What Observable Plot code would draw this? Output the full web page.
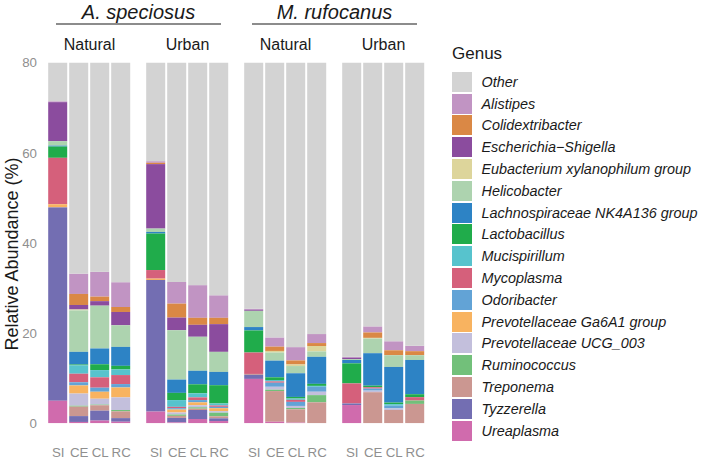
<!DOCTYPE html>
<html>
<head>
<meta charset="utf-8">
<script src="https://cdn.jsdelivr.net/npm/d3@7"></script>
<script src="https://cdn.jsdelivr.net/npm/@observablehq/plot@0.6"></script>
<style>
  html, body { margin: 0; padding: 0; background: #fff; }
  #wrap { position: relative; width: 709px; height: 461px; font-family: "Liberation Sans", Arial, Helvetica, sans-serif; }
  #chart { position: absolute; left: 0; top: 0; }
  #legend { position: absolute; left: 452px; top: 0; }
  .ltitle { position: absolute; left: 0; top: 44px; font-size: 17px; color: #1a1a1a; white-space: nowrap; }
  .lrow { position: absolute; left: 0; height: 20px; display: flex; align-items: center; white-space: nowrap; }
  .lkey { width: 20px; height: 20px; }
  .llab { margin-left: 9.5px; font-size: 14.4px; font-style: italic; color: #1a1a1a; }
</style>
</head>
<body>
<div id="wrap"><div id="chart"></div><div id="legend"></div></div>
<script>
// ---- data ----
const sites = ["SI", "CE", "CL", "RC"];
const species = ["A. speciosus", "M. rufocanus"];
const habitats = ["Natural", "Urban"];
const groups = ["A. speciosus|Natural", "A. speciosus|Urban", "M. rufocanus|Natural", "M. rufocanus|Urban"];
const yTicks = [0, 20, 40, 60, 80];

const genera = ["Other", "Alistipes", "Colidextribacter", "Escherichia\u2212Shigella", "Eubacterium xylanophilum group",
  "Helicobacter", "Lachnospiraceae NK4A136 group", "Lactobacillus", "Mucispirillum", "Mycoplasma", "Odoribacter",
  "Prevotellaceae Ga6A1 group", "Prevotellaceae UCG_003", "Ruminococcus", "Treponema", "Tyzzerella", "Ureaplasma"];
const colors = ["#D3D3D3", "#C194C3", "#DA8845", "#8B4C9E", "#DDD59B", "#ADD3AF", "#2D83C5", "#20AC4B", "#57C3CD",
  "#D5607B", "#62A3D6", "#F8B360", "#C3BFDC", "#72C07A", "#CB9791", "#736EB2", "#D06BAD"];

// values per bar: A.sp Natural SI CE CL RC | A.sp Urban SI CE CL RC | M.ru Natural ... | M.ru Urban ...
const alistipes        = [0.2, 4.5, 5.5, 5.5,   0.35, 4.8, 7.25, 5.0,   0.2, 2.05, 2.95, 2.0,  0.2, 1.35, 2.0, 1.2];
const colidextribacter = [0, 2.45, 1.0, 1.1,    0.3, 3.1, 1.55, 1.4,    0, 0.95, 0.9, 0.65,    0, 1.2, 1.1, 0.9];
const escherichia      = [8.65, 1.0, 1.0, 2.95, 14.3, 2.8, 2.65, 6.15,  0.25, 0, 0, 0,         0.3, 0, 0, 0];
const eubacterium      = [0, 0.2, 0, 0,         0, 0, 0, 0,             0, 0.35, 0.35, 1.2,    0, 0.15, 0, 0];
const helicobacter     = [1.0, 9.2, 9.5, 4.8,   0.75, 10.95, 7.55, 4.45, 3.6, 1.8, 1.6, 1.2,   0.2, 3.25, 2.6, 1.05];
const lachnospiraceae  = [0.2, 2.8, 3.5, 4.2,   0.35, 2.95, 3.0, 2.95,  0.75, 3.7, 5.25, 6.0,  0.75, 7.2, 7.9, 7.6];
const lactobacillus    = [2.5, 0.2, 1.3, 0.8,   8.1, 1.6, 2.0, 4.05,    4.9, 0.6, 0.35, 0.45,  4.45, 0.35, 0.35, 0.65];
const mucispirillum    = [0, 1.85, 1.6, 1.25,   0, 1.5, 0.9, 0.45,      0, 0.3, 0.3, 0.2,      0, 0, 0.35, 0];
const mycoplasma       = [10.3, 1.9, 2.3, 2.0,  1.9, 0.3, 0.6, 0.3,     4.75, 0.3, 0.45, 0,    4.45, 0.3, 0, 0.75];
const odoribacter      = [0, 0.7, 0.9, 0.75,    0, 0.3, 0.5, 0.3,       0, 0.9, 0.9, 1.1,      0, 0.45, 0.6, 0];
const ga6a1            = [0.7, 1.8, 1.55, 2.2,  0.3, 0.65, 0.65, 0.65,  0, 0, 0, 0,            0, 0, 0, 0];
const ucg003           = [0, 2.7, 1.3, 2.8,     0, 0.45, 0.45, 0.35,    0, 0.65, 0.45, 0.75,   0, 0.35, 0.35, 0];
const ruminococcus     = [0, 0.2, 0.15, 0.3,    0, 0.3, 0.3, 0.8,       0, 0.3, 0.3, 1.6,      0, 0, 0, 0.75];
const treponema        = [0, 2.1, 1.2, 1.5,     0, 0.45, 0.3, 0.45,     0.2, 6.8, 2.95, 4.65,  0, 6.9, 2.95, 4.3];
const tyzzerella       = [42.9, 1.3, 2.2, 0.8,  29.2, 1.0, 2.0, 0.6,    0.9, 0, 0, 0,          0.35, 0, 0, 0];
const ureaplasma       = [5.0, 0.3, 0.6, 0.35,  2.6, 0.2, 0.95, 0.5,    9.85, 0.35, 0.15, 0,   4.05, 0, 0, 0];

const series = [null, alistipes, colidextribacter, escherichia, eubacterium, helicobacter, lachnospiraceae,
  lactobacillus, mucispirillum, mycoplasma, odoribacter, ga6a1, ucg003, ruminococcus, treponema, tyzzerella, ureaplasma];

// ---- table ----
const rows = [];
groups.forEach((g, gi) => {
  sites.forEach((s, si) => {
    const i = gi * 4 + si;
    let sum = 0;
    for (let k = 1; k < genera.length; k++) {
      const v = series[k][i];
      sum += v;
      rows.push({group: g, site: s, genus: genera[k], value: v});
    }
    rows.push({group: g, site: s, genus: "Other", value: 100 - sum});
  });
});

const FONT = '"Liberation Sans", Arial, Helvetica, sans-serif';
const chart = Plot.plot({
  width: 709,
  height: 461,
  marginLeft: 42.8,
  marginRight: 279.5,
  marginTop: 62.7,
  marginBottom: 37.7,
  style: {fontFamily: FONT, fontSize: "13.3px", color: "#8f8f8f", background: "white"},
  fx: {domain: groups, paddingInner: 0.069, paddingOuter: 0, axis: null, label: null},
  x: {domain: sites, paddingInner: 0.1, paddingOuter: 0.15, label: null, tickSize: 0, tickPadding: 23.5},
  y: {domain: [0, 80], ticks: yTicks, label: null, tickSize: 0, tickPadding: 7.5},
  color: {domain: genera, range: colors},
  marks: [
    Plot.barY(rows, {fx: "group", x: "site", y: "value", fill: "genus", order: genera.slice().reverse(), clip: true})
  ]
});
document.getElementById("chart").appendChild(chart);

const svgEl = chart.tagName.toLowerCase() === "svg" ? chart : chart.querySelector("svg");
const svg = d3.select(svgEl);
const fx = chart.scale("fx");
const bw = fx.bandwidth;
const pos = g => fx.apply(g);

// species headers with rule
species.forEach((sp, i) => {
  const x0 = pos(groups[2 * i]);
  const x1 = pos(groups[2 * i + 1]) + bw;
  svg.append("text").attr("x", (x0 + x1) / 2).attr("y", 18.5)
    .attr("text-anchor", "middle").attr("font-family", FONT).attr("font-size", 20)
    .attr("font-style", "italic").attr("fill", "#1a1a1a").text(sp);
  svg.append("line").attr("x1", x0 + 12).attr("x2", x1 - 12).attr("y1", 24).attr("y2", 24)
    .attr("stroke", "#1a1a1a").attr("stroke-width", 1.1);
});
// habitat strip labels
groups.forEach(g => {
  svg.append("text").attr("x", pos(g) + bw / 2).attr("y", 50)
    .attr("text-anchor", "middle").attr("font-family", FONT).attr("font-size", 16)
    .attr("fill", "#1a1a1a").text(g.split("|")[1]);
});
// y axis title
svg.append("text").attr("transform", "translate(18.3,254) rotate(-90)")
  .attr("text-anchor", "middle").attr("font-family", FONT).attr("font-size", 18)
  .attr("fill", "#1a1a1a").text("Relative Abundance (%)");

// legend
const legend = d3.select("#legend");
legend.append("div").attr("class", "ltitle").text("Genus");
const lr = legend.selectAll(".lrow").data(genera).join("div").attr("class", "lrow")
  .style("top", (d, i) => (71.7 + i * 21.8) + "px");
lr.append("div").attr("class", "lkey").style("background", (d, i) => colors[i]);
lr.append("div").attr("class", "llab").text(d => d);
</script>
</body>
</html>
